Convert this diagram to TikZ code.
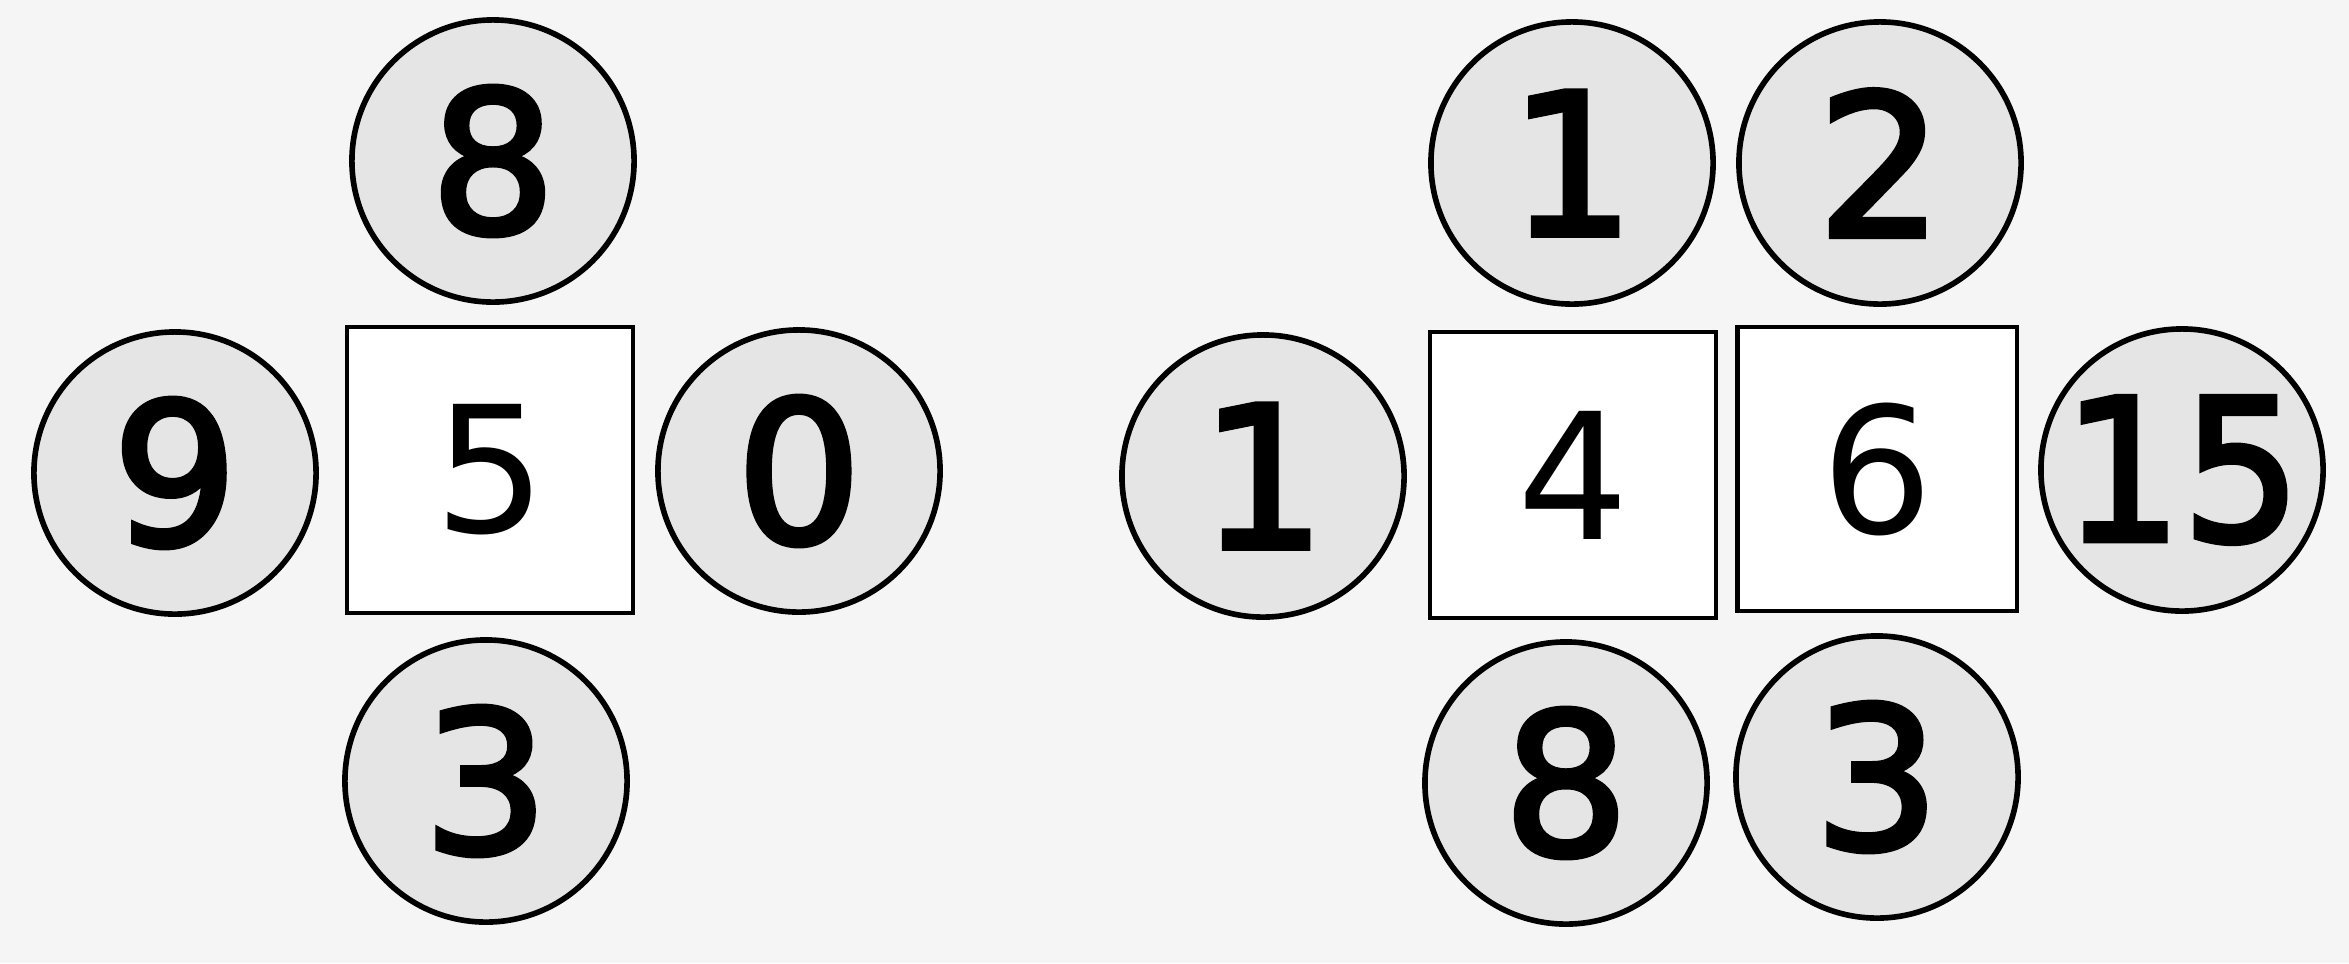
\documentclass[tikz,border=0pt]{standalone}
\usepackage{fontspec}
\setmainfont{DejaVu Sans}
\newfontfamily\circfont[FakeBold=3]{DejaVu Sans}
\begin{document}
\begin{tikzpicture}[x=0.01cm,y=-0.01cm,
  disc/.style={circle,draw=black,line width=1.6pt,fill=black!10,minimum size=2.82cm,inner sep=0pt,font=\circfont\fontsize{56}{60}\selectfont},
  box/.style={rectangle,draw=black,line width=1.2pt,fill=white,minimum size=2.86cm,inner sep=0pt,font=\fontsize{50}{55}\selectfont}]
\fill[black!4] (0,0) rectangle (2349,963);
\useasboundingbox (0,0) rectangle (2349,963);
% left group
\node[box] (s5) at (490,470) {5};
\node[disc] (c8) at (493,161) {8};
\node[disc] (c9) at (175,473) {9};
\node[disc] (c0) at (799,471) {0};
\node[disc] (c3) at (486,781) {3};
% right group
\node[box] (s4) at (1573,475) {4};
\node[box,minimum width=2.79cm,minimum height=2.84cm] (s6) at (1877,469) {6};
\node[disc] (t1) at (1572,163) {1};
\node[disc] (t2) at (1880,163) {2};
\node[disc] (l1) at (1263,476) {1};
\node[disc] (r15) at (2182,470) {\scalebox{0.95}[1]{15}};
\node[disc] (b8) at (1566,783) {8};
\node[disc] (b3) at (1877,777) {3};
\end{tikzpicture}
\end{document}
